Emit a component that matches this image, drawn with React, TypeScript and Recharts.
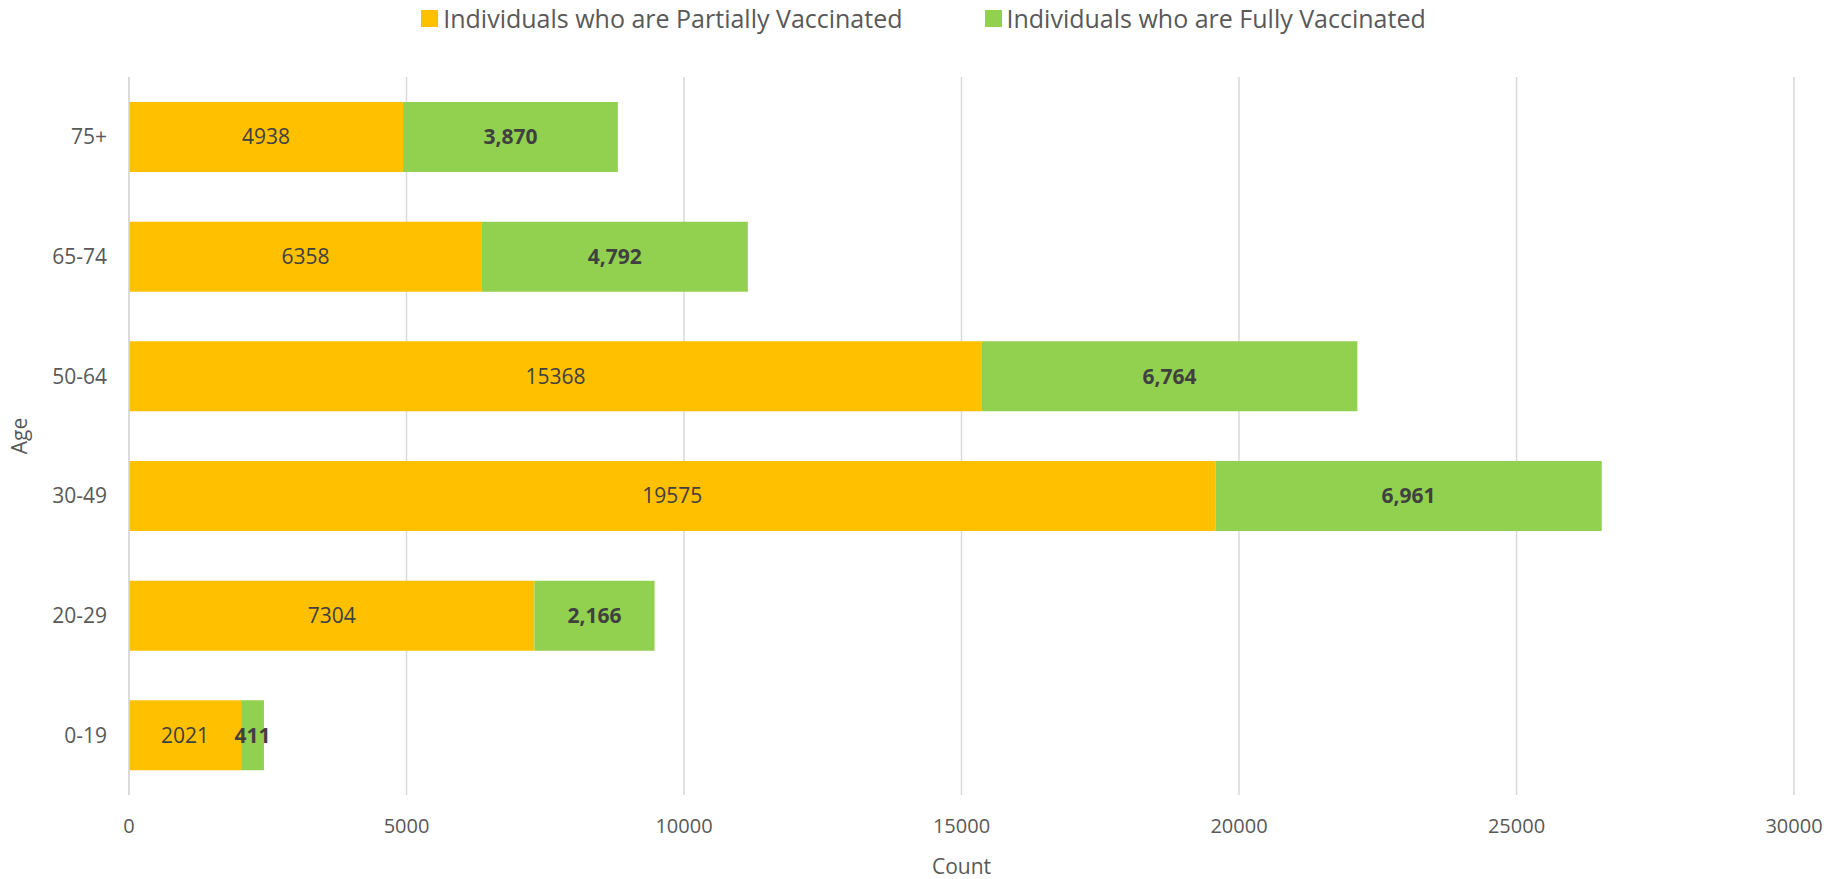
import { BarChart, Bar, XAxis, YAxis, CartesianGrid, LabelList } from 'recharts';

const ageGroups = ['75+', '65-74', '50-64', '30-49', '20-29', '0-19'];
const partiallyVaccinated = [4938, 6358, 15368, 19575, 7304, 2021];
const fullyVaccinated = [3870, 4792, 6764, 6961, 2166, 411];
const xTicks = [0, 5000, 10000, 15000, 20000, 25000, 30000];

const PARTIAL = '#FFC000';
const FULL = '#92D050';
const TEXT = '#595959';
const LABEL = '#404040';
const GRID = '#D9D9D9';
const FONT = '"Open Sans", sans-serif';

const data = ageGroups.map((age, i) => ({
  age,
  partial: partiallyVaccinated[i],
  full: fullyVaccinated[i],
}));

const legendItems = [
  { label: 'Individuals who are Partially Vaccinated', color: PARTIAL },
  { label: 'Individuals who are Fully Vaccinated', color: FULL },
];

export default function App() {
  return (
    <div style={{ position: 'relative', width: 1847, height: 879, fontFamily: FONT }}>
      <style>{`body { margin: 0; }`}</style>
      <div
        style={{
          position: 'absolute',
          top: 1,
          left: 0,
          width: 1847,
          display: 'flex',
          justifyContent: 'center',
          gap: 82,
          fontSize: 25,
          color: TEXT,
        }}
      >
        {legendItems.map((it) => (
          <div key={it.label} style={{ display: 'flex', alignItems: 'center', gap: 5 }}>
            <span style={{ width: 17, height: 17, background: it.color, display: 'inline-block' }} />
            <span>{it.label}</span>
          </div>
        ))}
      </div>
      <BarChart
        width={1847}
        height={879}
        data={data}
        layout="vertical"
        margin={{ top: 77, right: 53, left: 0, bottom: 0 }}
        barSize={70}
      >
        <CartesianGrid stroke={GRID} strokeWidth={1.5} horizontal={false} />
        <XAxis
          type="number"
          domain={[0, 30000]}
          ticks={xTicks}
          axisLine={false}
          tickLine={false}
          tickSize={0}
          tickMargin={24}
          height={84}
          tick={{ fill: TEXT, fontSize: 20, fontFamily: FONT }}
          label={{
            value: 'Count',
            position: 'insideBottom',
            offset: 5,
            fill: TEXT,
            fontSize: 21,
            fontFamily: FONT,
          }}
        />
        <YAxis
          type="category"
          dataKey="age"
          width={129}
          axisLine={{ stroke: GRID, strokeWidth: 1.5 }}
          tickLine={false}
          tickSize={0}
          tickMargin={22}
          tick={{ fill: TEXT, fontSize: 21, fontFamily: FONT }}
          label={{
            value: 'Age',
            angle: -90,
            position: 'insideLeft',
            offset: 20,
            style: { textAnchor: 'middle' },
            fill: TEXT,
            fontSize: 21,
            fontFamily: FONT,
          }}
        />
        <Bar dataKey="partial" stackId="a" fill={PARTIAL} isAnimationActive={false}>
          <LabelList
            dataKey="partial"
            position="center"
            fill={LABEL}
            fontSize={21}
            fontFamily={FONT}
          />
        </Bar>
        <Bar dataKey="full" stackId="a" fill={FULL} isAnimationActive={false}>
          <LabelList
            dataKey="full"
            position="center"
            fill={LABEL}
            fontSize={21}
            fontWeight="bold"
            fontFamily={FONT}
            formatter={(v: number) => v.toLocaleString('en-US')}
          />
        </Bar>
      </BarChart>
    </div>
  );
}
